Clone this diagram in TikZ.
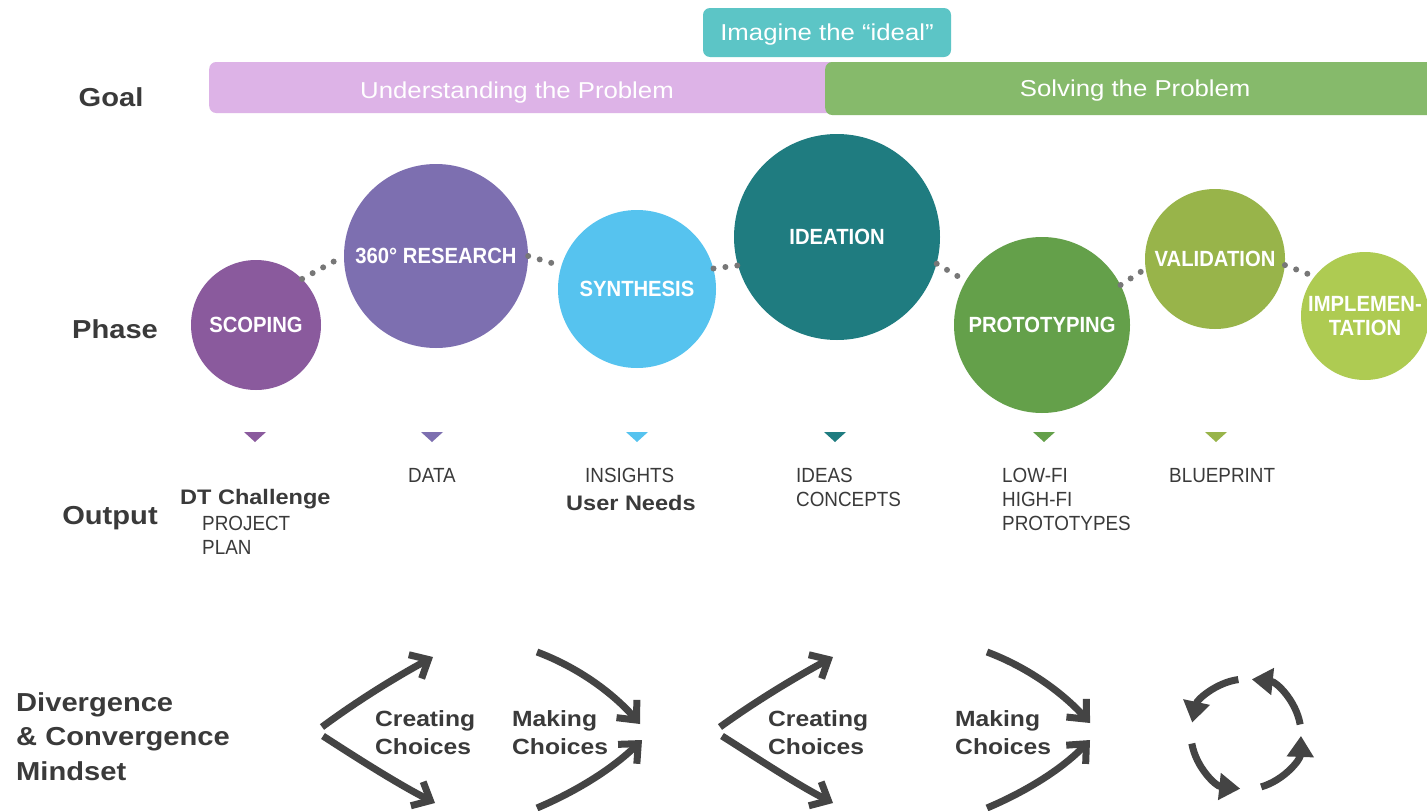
\documentclass[tikz,border=0pt]{standalone}
\usepackage{fontspec}
\setmainfont{Liberation Sans}
\newfontfamily\wide[FakeStretch=1.12]{Liberation Sans}
\newfontfamily\cond[FakeStretch=0.92]{Liberation Sans}
\usetikzlibrary{arrows.meta}
\definecolor{cScop}{HTML}{8A5A9D}
\definecolor{cRes}{HTML}{7D6FB0}
\definecolor{cSyn}{HTML}{56C3EF}
\definecolor{cIdea}{HTML}{1F7C80}
\definecolor{cProt}{HTML}{64A04A}
\definecolor{cVal}{HTML}{98B44A}
\definecolor{cImp}{HTML}{AECB52}
\definecolor{cImag}{HTML}{5CC5C6}
\definecolor{cUnd}{HTML}{DDB3E7}
\definecolor{cSol}{HTML}{86BA6B}
\definecolor{ink}{HTML}{3A3A3A}
\definecolor{dotgray}{HTML}{777777}
\definecolor{arrowgray}{HTML}{444444}
\begin{document}
\begin{tikzpicture}[x=1pt,y=-1pt,
 phase/.style={circle, inner sep=0pt, text=white, font=\cond\bfseries\fontsize{22}{24}\selectfont, align=center},
 capc/.style={text height=15.8pt, text depth=0pt},
 bar/.style={rounded corners=7pt, inner sep=0pt, minimum height=51pt, text=white, font=\wide\fontsize{23}{26}\selectfont, text height=16.5pt, text depth=0pt},
 rowlabel/.style={font=\wide\bfseries\fontsize{26}{30}\selectfont, text=ink, inner sep=0pt, anchor=base},
 outtxt/.style={font=\cond\fontsize{20.5}{24}\selectfont, text=ink, inner sep=0pt, anchor=base west},
 outbold/.style={font=\wide\bfseries\fontsize{21}{24}\selectfont, text=ink, inner sep=0pt, anchor=base west},
 mindtxt/.style={font=\wide\bfseries\fontsize{22}{28}\selectfont, text=ink, inner sep=0pt, anchor=north west, align=left},
 dotline/.style={dotgray, line width=6pt, line cap=round, dash pattern=on 0pt off 12pt},
 bigarrow/.style={arrowgray, line width=7pt, -{Straight Barb[length=15pt,width=27pt]}},
 cyclearrow/.style={arrowgray, line width=7pt, -{Triangle[length=21pt,width=26pt]}},
]
\useasboundingbox (0,0) rectangle (1427,811);
\fill[white] (0,0) rectangle (1427,811);

% goal bars
\node[bar, fill=cImag, minimum width=248pt, minimum height=49pt] (imagine) at (827,32.5) {Imagine the “ideal”};
\node[bar, fill=cUnd, minimum width=640pt, anchor=west] (underbar) at (209,87.5) {};
\node[text=white, font=\wide\fontsize{23}{26}\selectfont, inner sep=0pt, text height=16.5pt, text depth=0pt] (undertxt) at (517,90) {Understanding the Problem};
\node[bar, fill=cSol, minimum width=620pt, minimum height=53pt, anchor=west] (solving) at (825,88.5) {Solving the Problem};

% row labels
\node[rowlabel] (goal) at (111,106) {Goal};
\node[rowlabel] (phase) at (115,338) {Phase};
\node[rowlabel] (output) at (110,524) {Output};
\node[mindtxt, font=\wide\bfseries\fontsize{26}{34.5}\selectfont] (mindset) at (16,692) {Divergence\\\& Convergence\\Mindset};

% phases
\node[phase, capc, fill=cScop, minimum size=130pt] (scoping) at (256,325) {SCOPING};
\node[phase, capc, fill=cRes, minimum size=184pt] (research) at (436,256) {360° RESEARCH};
\node[phase, capc, fill=cSyn, minimum size=158pt] (synthesis) at (637,289) {SYNTHESIS};
\node[phase, capc, fill=cIdea, minimum size=206pt] (ideation) at (837,237) {IDEATION};
\node[phase, capc, fill=cProt, minimum size=176pt] (prototyping) at (1042,325) {PROTOTYPING};
\node[phase, capc, fill=cVal, minimum size=140pt] (validation) at (1215,259) {VALIDATION};
\node[phase, fill=cImp, minimum size=128pt] (implementation) at (1365,316) {IMPLEMEN-\\TATION};

\draw[dotline] (scoping.45) -- (research.180);
\draw[dotline] (research.0) -- (synthesis.163);
\draw[dotline] (synthesis.15) -- (ideation.196);
\draw[dotline] (ideation.-15) -- (prototyping.150);
\draw[dotline] (prototyping.27) -- (validation.188);
\draw[dotline] (validation.-5) -- (implementation.142);

% output markers
\fill[cScop] (244,432) -- (266,432) -- (255,442) -- cycle;
\fill[cRes] (421,432) -- (443,432) -- (432,442) -- cycle;
\fill[cSyn] (626,432) -- (648,432) -- (637,442) -- cycle;
\fill[cIdea] (824,432) -- (846,432) -- (835,442) -- cycle;
\fill[cProt] (1033,432) -- (1055,432) -- (1044,442) -- cycle;
\fill[cVal] (1205,432) -- (1227,432) -- (1216,442) -- cycle;

% outputs
\node[outbold] (dtchallenge) at (180,504) {DT Challenge};
\node[outtxt] (project) at (202,530) {PROJECT};
\node[outtxt] (plan) at (202,554) {PLAN};
\node[outtxt] (data) at (408,482) {DATA};
\node[outtxt] (insights) at (585,482) {INSIGHTS};
\node[outbold] (userneeds) at (566,510) {User Needs};
\node[outtxt] (ideas) at (796,482) {IDEAS};
\node[outtxt] (concepts) at (796,506) {CONCEPTS};
\node[outtxt] (lowfi) at (1002,482) {LOW-FI};
\node[outtxt] (highfi) at (1002,506) {HIGH-FI};
\node[outtxt] (prototypes) at (1002,530) {PROTOTYPES};
\node[outtxt] (blueprint) at (1169,482) {BLUEPRINT};

% mindset
\node[mindtxt] (create1) at (375,710) {Creating\\Choices};
\node[mindtxt] (make1) at (512,710) {Making\\Choices};
\node[mindtxt] (create2) at (768,710) {Creating\\Choices};
\node[mindtxt] (make2) at (955,710) {Making\\Choices};

\coordinate (d1s) at (322,727); \coordinate (d1e) at (433,657);
\coordinate (d2s) at (323,736); \coordinate (d2e) at (435,803);
\coordinate (c1s) at (537,652); \coordinate (c1e) at (640,724);
\coordinate (c2s) at (537,808); \coordinate (c2e) at (642,740);
\draw[bigarrow] (d1s) .. controls (357,701) and (396,677) .. (d1e);
\draw[bigarrow] (d2s) .. controls (360,760) and (398,784) .. (d2e);
\draw[bigarrow] (c1s) .. controls (577,667) and (612,692) .. (c1e);
\draw[bigarrow] (c2s) .. controls (577,791) and (612,769) .. (c2e);

\coordinate (d3s) at (720,727); \coordinate (d3e) at (833,657);
\coordinate (d4s) at (722,736); \coordinate (d4e) at (833,803);
\coordinate (c3s) at (987,652); \coordinate (c3e) at (1090,723);
\coordinate (c4s) at (987,808); \coordinate (c4e) at (1090,740);
\draw[bigarrow] (d3s) .. controls (756,701) and (796,677) .. (d3e);
\draw[bigarrow] (d4s) .. controls (760,760) and (796,784) .. (d4e);
\draw[bigarrow] (c3s) .. controls (1027,667) and (1062,692) .. (c3e);
\draw[bigarrow] (c4s) .. controls (1027,791) and (1062,769) .. (c4e);

% cycle
\coordinate (cyc) at (1246,734);
\draw[cyclearrow] (cyc) ++(-98:55) arc[start angle=-98, end angle=-168, radius=55];
\draw[cyclearrow] (cyc) ++(-190:55) arc[start angle=-190, end angle=-264, radius=55];
\draw[cyclearrow] (cyc) ++(-286:55) arc[start angle=-286, end angle=-358, radius=55];
\draw[cyclearrow] (cyc) ++(-10:55) arc[start angle=-10, end angle=-84, radius=55];
\end{tikzpicture}
\end{document}
